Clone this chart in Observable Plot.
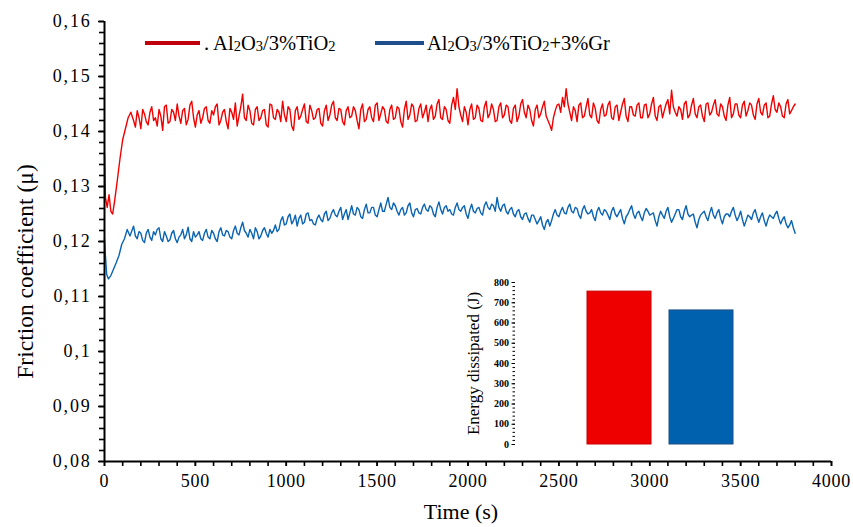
<!DOCTYPE html>
<html>
<head>
<meta charset="utf-8">
<script src="https://cdn.jsdelivr.net/npm/d3@7"></script>
<script src="https://cdn.jsdelivr.net/npm/@observablehq/plot@0.6"></script>
<style>
  body { margin: 0; background: #fff; }
  #wrap { position: relative; width: 853px; height: 527px; font-family: "Liberation Serif", "DejaVu Serif", serif; }
  #wrap svg { position: absolute; }
  #wrap svg text { font-family: "Liberation Serif", "DejaVu Serif", serif !important; }
  #main [aria-label="x-axis tick label"] text { letter-spacing: 0.8px; }
  #main [aria-label="y-axis tick label"] text { letter-spacing: 1.8px; }
  .leg { position: absolute; font-size: 20.5px; color: #000; white-space: nowrap; line-height: 1; }
  .leg sub { font-size: 14.5px; vertical-align: -1px; }
  .sw { position: absolute; height: 4px; }
</style>
</head>
<body>
<div id="wrap"></div>
<script>
// ---------- data ----------
const seriesNames = ["Al2O3/3%TiO2", "Al2O3/3%TiO2+3%Gr"];
const seriesColors = ["#f00000", "#0a64b0"];

// start-up transients (time s, friction coefficient)
const redTransT = [0, 5, 15, 25, 35, 45, 55, 70, 85, 100, 115, 130, 145];
const redTransV = [0.1360, 0.1280, 0.1262, 0.1285, 0.1255, 0.1250, 0.1272, 0.1310, 0.1350, 0.1385, 0.1405, 0.1425, 0.1435];
const blueTransT = [0, 5, 12, 22, 35, 50, 65, 80, 95, 110, 125, 140];
const blueTransV = [0.1205, 0.1175, 0.1140, 0.1132, 0.1138, 0.1150, 0.1162, 0.1175, 0.1195, 0.1205, 0.1222, 0.1210];

// steady-state readings: "even" every 20 s from 160 s to 3800 s,
// "odd" every 20 s from 170 s to 3790 s
const evenStart = 160, oddStart = 170, sampleStep = 20;
const redEven = [
  0.1420,0.1438,0.1405,0.1432,0.1412,0.1445,0.1425,0.1440,0.1402,0.1448,
  0.1418,0.1435,0.1450,0.1415,0.1442,0.1422,0.1455,0.1408,0.1438,0.1425,
  0.1445,0.1415,0.1430,0.1450,0.1420,0.1440,0.1405,0.1435,0.1452,0.1428,
  0.1468,0.1420,0.1438,0.1412,0.1445,0.1425,0.1440,0.1408,0.1448,0.1422,
  0.1435,0.1455,0.1418,0.1440,0.1402,0.1445,0.1428,0.1450,0.1415,0.1438,
  0.1425,0.1442,0.1410,0.1448,0.1430,0.1455,0.1420,0.1440,0.1412,0.1445,
  0.1428,0.1438,0.1405,0.1450,0.1422,0.1445,0.1418,0.1452,0.1432,0.1440,
  0.1415,0.1448,0.1425,0.1442,0.1408,0.1455,0.1430,0.1445,0.1420,0.1450,
  0.1435,0.1418,0.1448,0.1428,0.1458,0.1422,0.1440,0.1415,0.1462,0.1478,
  0.1430,0.1445,0.1412,0.1450,0.1425,0.1442,0.1418,0.1455,0.1432,0.1440,
  0.1420,0.1452,0.1430,0.1445,0.1415,0.1448,0.1428,0.1458,0.1425,0.1440,
  0.1410,0.1448,0.1432,0.1455,0.1420,0.1402,0.1438,0.1450,0.1462,0.1478,
  0.1435,0.1445,0.1418,0.1452,0.1428,0.1460,0.1425,0.1442,0.1415,0.1450,
  0.1430,0.1455,0.1422,0.1448,0.1435,0.1460,0.1418,0.1445,0.1428,0.1452,
  0.1425,0.1450,0.1432,0.1462,0.1420,0.1448,0.1438,0.1458,0.1475,0.1435,
  0.1445,0.1422,0.1455,0.1430,0.1460,0.1425,0.1448,0.1418,0.1452,0.1435,
  0.1458,0.1428,0.1445,0.1420,0.1462,0.1432,0.1450,0.1425,0.1455,0.1438,
  0.1448,0.1422,0.1460,0.1430,0.1452,0.1428,0.1465,0.1435,0.1445,0.1425,
  0.1458,0.1438,0.1450
];
const redOdd = [
  0.1408,0.1425,0.1440,0.1418,0.1435,0.1420,0.1410,0.1428,0.1445,0.1415,
  0.1440,0.1420,0.1428,0.1438,0.1412,0.1448,0.1425,0.1430,0.1415,0.1442,
  0.1420,0.1438,0.1445,0.1412,0.1435,0.1418,0.1442,0.1422,0.1410,0.1445,
  0.1425,0.1448,0.1415,0.1440,0.1420,0.1438,0.1412,0.1450,0.1425,0.1440,
  0.1418,0.1430,0.1445,0.1410,0.1438,0.1422,0.1440,0.1418,0.1448,0.1422,
  0.1440,0.1415,0.1438,0.1420,0.1448,0.1425,0.1442,0.1418,0.1438,0.1425,
  0.1445,0.1420,0.1440,0.1418,0.1440,0.1425,0.1448,0.1420,0.1445,0.1418,
  0.1440,0.1422,0.1445,0.1418,0.1440,0.1422,0.1450,0.1418,0.1442,0.1425,
  0.1448,0.1440,0.1422,0.1450,0.1425,0.1445,0.1420,0.1448,0.1440,0.1445,
  0.1418,0.1435,0.1440,0.1422,0.1448,0.1420,0.1445,0.1425,0.1450,0.1418,
  0.1445,0.1425,0.1448,0.1420,0.1442,0.1418,0.1450,0.1435,0.1448,0.1420,
  0.1440,0.1425,0.1445,0.1428,0.1412,0.1425,0.1448,0.1435,0.1445,0.1450,
  0.1420,0.1438,0.1448,0.1425,0.1445,0.1430,0.1452,0.1420,0.1440,0.1428,
  0.1448,0.1425,0.1445,0.1420,0.1450,0.1428,0.1445,0.1430,0.1448,0.1425,
  0.1448,0.1425,0.1450,0.1428,0.1445,0.1425,0.1450,0.1432,0.1445,0.1428,
  0.1440,0.1450,0.1425,0.1448,0.1432,0.1445,0.1428,0.1450,0.1430,0.1448,
  0.1432,0.1450,0.1428,0.1448,0.1425,0.1450,0.1430,0.1448,0.1428,0.1452,
  0.1430,0.1450,0.1435,0.1448,0.1425,0.1450,0.1440,0.1452,0.1428,0.1450,
  0.1432,0.1445
];
const blueEven = [
  0.1228,0.1205,0.1215,0.1198,0.1222,0.1202,0.1212,0.1225,0.1200,0.1210,
  0.1203,0.1220,0.1198,0.1212,0.1205,0.1226,0.1200,0.1208,0.1218,0.1202,
  0.1222,0.1205,0.1215,0.1200,0.1225,0.1210,0.1218,0.1205,0.1228,0.1212,
  0.1235,0.1215,0.1222,0.1205,0.1218,0.1210,0.1225,0.1208,0.1215,0.1230,
  0.1222,0.1245,0.1232,0.1250,0.1238,0.1228,0.1248,0.1235,0.1252,0.1240,
  0.1230,0.1248,0.1236,0.1255,0.1242,0.1258,0.1245,0.1262,0.1250,0.1240,
  0.1265,0.1248,0.1258,0.1242,0.1268,0.1252,0.1262,0.1245,0.1270,0.1255,
  0.1280,0.1258,0.1265,0.1248,0.1262,0.1252,0.1270,0.1245,0.1260,0.1250,
  0.1268,0.1255,0.1262,0.1245,0.1272,0.1250,0.1265,0.1258,0.1248,0.1270,
  0.1255,0.1265,0.1242,0.1268,0.1252,0.1262,0.1248,0.1272,0.1258,0.1265,
  0.1280,0.1255,0.1268,0.1250,0.1262,0.1245,0.1258,0.1240,0.1252,0.1235,
  0.1248,0.1232,0.1245,0.1222,0.1240,0.1238,0.1258,0.1245,0.1262,0.1250,
  0.1268,0.1252,0.1260,0.1242,0.1265,0.1250,0.1258,0.1238,0.1262,0.1248,
  0.1255,0.1240,0.1262,0.1245,0.1258,0.1232,0.1250,0.1265,0.1242,0.1255,
  0.1238,0.1260,0.1248,0.1252,0.1228,0.1255,0.1242,0.1262,0.1235,0.1250,
  0.1258,0.1240,0.1265,0.1245,0.1250,0.1225,0.1248,0.1255,0.1238,0.1262,
  0.1242,0.1258,0.1232,0.1250,0.1245,0.1262,0.1238,0.1255,0.1228,0.1248,
  0.1240,0.1258,0.1235,0.1252,0.1228,0.1248,0.1242,0.1255,0.1232,0.1245,
  0.1225,0.1238,0.1215
];
const blueOdd = [
  0.1210,0.1218,0.1202,0.1215,0.1208,0.1218,0.1222,0.1205,0.1218,0.1200,
  0.1215,0.1205,0.1208,0.1222,0.1212,0.1205,0.1218,0.1212,0.1205,0.1215,
  0.1208,0.1220,0.1205,0.1218,0.1212,0.1220,0.1208,0.1220,0.1215,0.1225,
  0.1220,0.1208,0.1215,0.1225,0.1205,0.1220,0.1215,0.1222,0.1220,0.1218,
  0.1238,0.1230,0.1245,0.1232,0.1248,0.1242,0.1232,0.1250,0.1238,0.1232,
  0.1242,0.1240,0.1250,0.1238,0.1252,0.1248,0.1255,0.1240,0.1258,0.1252,
  0.1250,0.1262,0.1245,0.1258,0.1252,0.1262,0.1248,0.1258,0.1255,0.1268,
  0.1262,0.1270,0.1255,0.1258,0.1248,0.1265,0.1252,0.1258,0.1252,0.1262,
  0.1258,0.1265,0.1250,0.1262,0.1258,0.1262,0.1255,0.1250,0.1262,0.1258,
  0.1262,0.1250,0.1258,0.1255,0.1260,0.1252,0.1265,0.1262,0.1268,0.1255,
  0.1262,0.1265,0.1255,0.1258,0.1250,0.1255,0.1245,0.1250,0.1242,0.1248,
  0.1240,0.1238,0.1230,0.1235,0.1228,0.1250,0.1248,0.1255,0.1252,0.1262,
  0.1255,0.1262,0.1248,0.1258,0.1255,0.1252,0.1245,0.1255,0.1252,0.1258,
  0.1248,0.1255,0.1250,0.1252,0.1242,0.1245,0.1258,0.1250,0.1252,0.1245,
  0.1252,0.1255,0.1250,0.1238,0.1245,0.1248,0.1255,0.1245,0.1242,0.1258,
  0.1245,0.1255,0.1250,0.1248,0.1235,0.1240,0.1252,0.1245,0.1252,0.1248,
  0.1252,0.1242,0.1245,0.1250,0.1255,0.1248,0.1245,0.1240,0.1238,0.1245,
  0.1252,0.1245,0.1245,0.1238,0.1240,0.1245,0.1250,0.1242,0.1240,0.1232,
  0.1230,0.1225
];

// axis ticks
const xTicks = [0, 500, 1000, 1500, 2000, 2500, 3000, 3500, 4000];
const xMinorTicks = d3.range(0, 4001, 100);
const yTicks = [0.08, 0.09, 0.1, 0.11, 0.12, 0.13, 0.14, 0.15, 0.16];
const yMinorTicks = d3.range(0, 41).map(i => 0.08 + i * 0.002);

// inset: energy dissipated
const energyCats = seriesNames;
const energyValues = [755, 662];
const energyColors = ["#ee0000", "#0062ae"];
const energyStrokes = ["#c80000", "#1c4f86"];
const energyTicks = [0, 100, 200, 300, 400, 500, 600, 700, 800];
const energyMinorTicks = d3.range(0, 801, 20);

// ---------- build rows ----------
function buildSeries(name, tt, tv, even, odd) {
  const rows = tt.map((t, i) => ({series: name, t, v: tv[i]}));
  even.forEach((v, i) => rows.push({series: name, t: evenStart + i * sampleStep, v}));
  odd.forEach((v, i) => rows.push({series: name, t: oddStart + i * sampleStep, v}));
  return rows.sort((a, b) => a.t - b.t);
}
const lineRows = [
  ...buildSeries(seriesNames[0], redTransT, redTransV, redEven, redOdd),
  ...buildSeries(seriesNames[1], blueTransT, blueTransV, blueEven, blueOdd)
];
const fmtComma = d => String(d).replace(".", ",");
const SERIF = "Liberation Serif";

// ---------- main chart ----------
const main = Plot.plot({
  width: 853, height: 527,
  marginLeft: 104, marginRight: 22, marginTop: 21, marginBottom: 66,
  style: {fontFamily: SERIF, fontSize: "16px", color: "#000", background: "transparent", overflow: "visible"},
  x: {domain: [0, 4000]},
  y: {domain: [0.08, 0.16]},
  color: {domain: seriesNames, range: seriesColors},
  marks: [
    Plot.axisX(xMinorTicks, {tickSize: 5, tickFormat: () => "", label: null, strokeWidth: 1.6}),
    Plot.axisX(xTicks, {tickSize: 5, tickPadding: 8, tickFormat: d => String(d), label: null, strokeWidth: 1.6, fontSize: 18, fontFamily: SERIF, fill: "#000"}),
    Plot.axisY(yMinorTicks, {tickSize: 5, tickFormat: () => "", label: null, strokeWidth: 1.6}),
    Plot.axisY(yTicks, {tickSize: 6, tickPadding: 7, tickFormat: fmtComma, label: null, strokeWidth: 1.6, fontSize: 18, fontFamily: SERIF, fill: "#000"}),
    Plot.line(lineRows, {x: "t", y: "v", z: "series", stroke: "series", strokeWidth: 1.4}),
    Plot.ruleX([0], {stroke: "#000", strokeWidth: 2}),
    Plot.ruleY([0.08], {stroke: "#000", strokeWidth: 2}),
    Plot.text(["Time (s)"], {frameAnchor: "bottom", dx: -7, dy: 57, fontSize: 22, fontFamily: SERIF, fill: "#000"}),
    Plot.text(["Friction coefficient (\u03bc)"], {frameAnchor: "left", textAnchor: "middle", dx: -79, dy: 30, rotate: -90, fontSize: 23.5, fontFamily: SERIF, fill: "#000"})
  ]
});
main.id = "main";
main.style.left = "0px"; main.style.top = "0px";

// ---------- inset chart ----------
const inset = Plot.plot({
  width: 380, height: 190,
  marginLeft: 75, marginRight: 15, marginTop: 12, marginBottom: 16,
  style: {fontFamily: SERIF, fontSize: "10px", color: "#000", background: "transparent", overflow: "visible"},
  x: {domain: energyCats, paddingInner: 0.22, paddingOuter: 0.878, axis: null},
  y: {domain: [0, 800]},
  marks: [
    Plot.axisY(energyMinorTicks, {tickSize: 2.5, tickFormat: () => "", label: null, strokeWidth: 1}),
    Plot.axisY(energyTicks, {tickSize: 3.5, tickPadding: 3, tickFormat: d => String(d), label: null, fontSize: 10, fontWeight: "bold", fontFamily: SERIF, fill: "#000"}),
    Plot.barY(energyCats.map((c, i) => ({c, v: energyValues[i], col: energyColors[i], st: energyStrokes[i]})),
      {x: "c", y: "v", fill: "col", stroke: "st", strokeWidth: 1}),
    Plot.ruleX([0], {frameAnchor: "left", stroke: "#000", strokeWidth: 1.5}),
    Plot.text(["Energy dissipated (J)"], {frameAnchor: "left", textAnchor: "middle", dx: -42, dy: 0, rotate: -90, fontSize: 17, fontFamily: SERIF, fill: "#000"})
  ]
});
inset.style.left = "440px"; inset.style.top = "270px";

const wrap = document.getElementById("wrap");
wrap.appendChild(main);
wrap.appendChild(inset);

// ---------- legend ----------
function addSwatch(x, w, color) {
  const s = document.createElement("div");
  s.className = "sw";
  s.style.left = x + "px"; s.style.top = "41px"; s.style.width = w + "px"; s.style.background = color;
  wrap.appendChild(s);
}
function addLabel(x, html) {
  const t = document.createElement("div");
  t.className = "leg";
  t.style.left = x + "px"; t.style.top = "33px";
  t.innerHTML = html;
  wrap.appendChild(t);
}
function subscripted(name) {
  return name.replace(/([A-Za-z])(\d)/g, "$1<sub>$2</sub>");
}
addSwatch(145, 55, "#c0000c");
addLabel(204, ". " + subscripted(seriesNames[0]));
addSwatch(375, 49, "#1f4e8c");
addLabel(427, subscripted(seriesNames[1]));
</script>
</body>
</html>
